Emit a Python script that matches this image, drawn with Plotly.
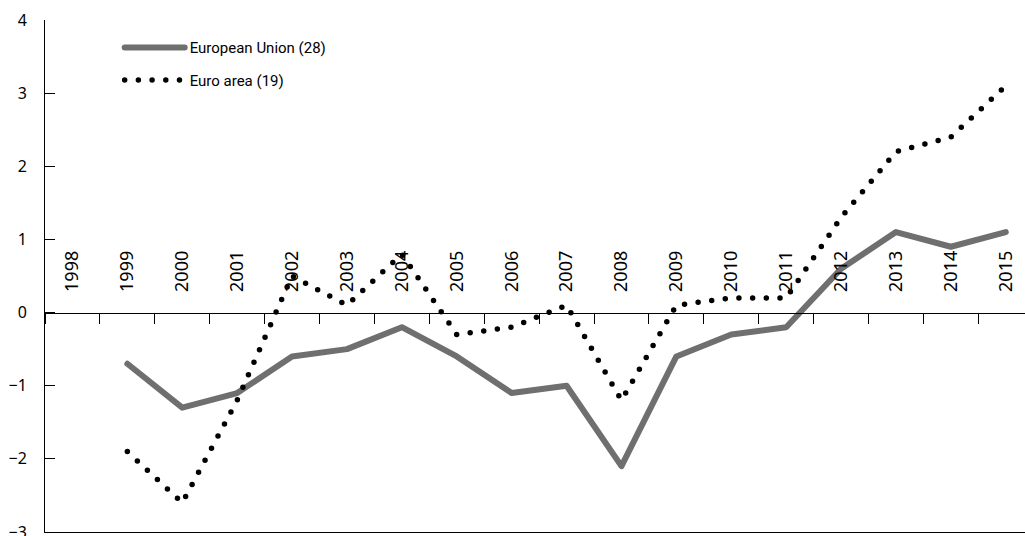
import plotly.graph_objects as go

years = ["1998", "1999", "2000", "2001", "2002", "2003", "2004", "2005", "2006",
         "2007", "2008", "2009", "2010", "2011", "2012", "2013", "2014", "2015"]
eu28 = [None, -0.7, -1.3, -1.1, -0.6, -0.5, -0.2, -0.6, -1.1,
        -1.0, -2.1, -0.6, -0.3, -0.2, 0.6, 1.1, 0.9, 1.1]
ea19 = [None, -1.9, -2.6, -1.2, 0.5, 0.1, 0.8, -0.3, -0.2,
        0.1, -1.2, 0.1, 0.2, 0.2, 1.3, 2.2, 2.4, 3.1]
y_ticks = [-3, -2, -1, 0, 1, 2, 3, 4]

fig = go.Figure()
fig.add_trace(go.Scatter(x=years, y=eu28, mode="lines", name="European Union (28)",
                         legendgroup="a", line=dict(color="#6f6f6f", width=6),
                         xaxis="x", yaxis="y"))
fig.add_trace(go.Scatter(x=years, y=ea19, mode="lines", name="Euro area (19)",
                         legendgroup="b", line=dict(color="black", width=5.5, dash="0px,13.7px"),
                         xaxis="x2", yaxis="y"))
# invisible helper so the label axis has categories to show
fig.add_trace(go.Scatter(x=years, y=[None] * len(years), xaxis="x3", yaxis="y",
                         showlegend=False, hoverinfo="skip"))

xr = [-0.5, 17.35]
zero_pos = 3 / 7
tick_font = "Noto Sans"

fig.update_layout(
    width=1025, height=536,
    margin=dict(l=45, r=0, t=20, b=4, autoexpand=False),
    plot_bgcolor="white", paper_bgcolor="white",
    font=dict(family=tick_font, color="black", size=16),
    showlegend=True,
    legend=dict(x=0.0762, y=0.978, xanchor="left", yanchor="top",
                font=dict(family="Roboto", size=15, color="black"),
                bgcolor="rgba(0,0,0,0)", itemwidth=60,
                traceorder="grouped", tracegroupgap=10),
    xaxis=dict(type="category", categoryarray=years, range=xr, automargin=False,
               showline=True, linecolor="black", linewidth=1,
               showticklabels=False, ticks="", showgrid=False, zeroline=False),
    xaxis2=dict(type="category", matches="x", overlaying="x", anchor="free",
                position=zero_pos, side="bottom", automargin=False,
                showline=True, linecolor="black", linewidth=1,
                ticks="outside", tickson="boundaries", ticklen=10, tickcolor="black",
                showticklabels=False, showgrid=False, zeroline=False),
    xaxis3=dict(type="category", matches="x", overlaying="x", anchor="free",
                position=zero_pos, side="top", automargin=False,
                showline=False, ticks="outside", ticklen=2, tickcolor="rgba(0,0,0,0)",
                tickangle=-90, tickfont=dict(family=tick_font, size=18, color="black"),
                ticklabelstandoff=15, showgrid=False, zeroline=False,
                tickmode="array", tickvals=years, ticktext=years),
    yaxis=dict(range=[-3, 4], tickvals=y_ticks, showline=True, linecolor="black",
               linewidth=1, ticks="inside", ticklen=10, tickcolor="black", automargin=False,
               tickfont=dict(family=tick_font, size=16, color="black"),
               ticklabelstandoff=14, ticklabeloverflow="allow",
               showgrid=False, zeroline=False),
)

round_caps = """
document.body.style.margin = '0';
var gd = document.getElementById('{plot_id}');
function rc() {
  gd.querySelectorAll('.js-line').forEach(function (p) {
    p.style.strokeLinecap = 'round';
    p.style.strokeLinejoin = 'round';
  });
}
rc();
gd.on('plotly_afterplot', rc);
"""

fig.write_html("out.html", post_script=round_caps, config={"displayModeBar": False})
